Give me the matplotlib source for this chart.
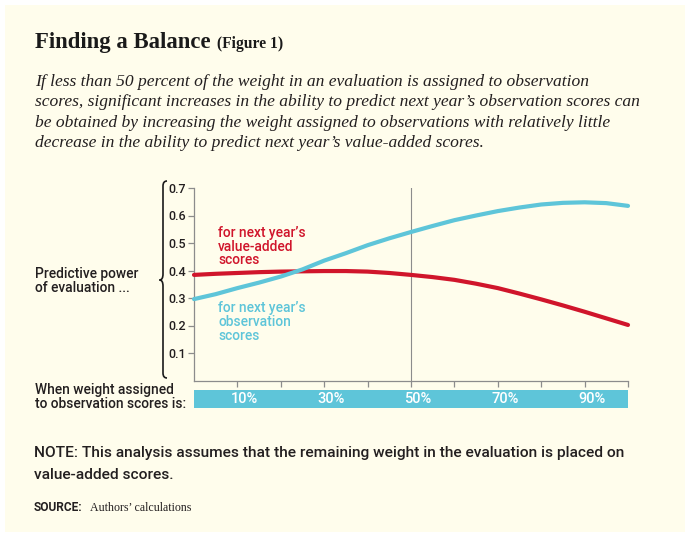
import numpy as np
import matplotlib
matplotlib.use("Agg")
import matplotlib.pyplot as plt
import matplotlib.transforms as mtransforms
from matplotlib.patches import Rectangle, PathPatch
from matplotlib.path import Path

# data (weight on observation scores, %)
weight = [0, 5, 10, 15, 20, 25, 30, 35, 40, 45, 50, 55, 60, 65, 70, 75, 80, 85, 90, 95, 100]
obs_pred = [0.296, 0.314, 0.336, 0.356, 0.378, 0.404, 0.436, 0.463, 0.492, 0.517, 0.540,
            0.562, 0.583, 0.600, 0.616, 0.629, 0.640, 0.646, 0.648, 0.645, 0.635]
va_pred = [0.384, 0.388, 0.391, 0.394, 0.396, 0.397, 0.398, 0.398, 0.396, 0.391, 0.384,
           0.376, 0.366, 0.352, 0.336, 0.316, 0.295, 0.273, 0.250, 0.226, 0.202]
xticks = [10, 20, 30, 40, 50, 60, 70, 80, 90, 100]
xlab_pos = [10, 30, 50, 70, 90]
xlab_txt = ["10%", "30%", "50%", "70%", "90%"]
yticks = [0.1, 0.2, 0.3, 0.4, 0.5, 0.6, 0.7]
ylab_txt = ["0.1", "0.2", "0.3", "0.4", "0.5", "0.6", "0.7"]

para = ["If less than 50 percent of the weight in an evaluation is assigned to observation",
        "scores, significant increases in the ability to predict next year\u2019s observation scores can",
        "be obtained by increasing the weight assigned to observations with relatively little",
        "decrease in the ability to predict next year\u2019s value-added scores."]

BG = "#fffdec"
TEAL = "#5ec5d9"
RED = "#d0152b"
GREY = "#8c8c8c"
DARK = "#231f20"
SERIF = "Liberation Serif"
SANS = "Roboto"
SW = "medium"

W, H = 690, 537
fig = plt.figure(figsize=(6.9, 5.37), dpi=100, facecolor="white")
fig.patches.append(Rectangle((5 / W, 5 / H), 680 / W, 527 / H, transform=fig.transFigure,
                             facecolor=BG, edgecolor="none", zorder=-10))


def txt(x, y, s, **kw):
    # x, y in image pixels (y down), baseline aligned
    return fig.text(x / W, 1 - y / H, s, va="baseline", **kw)


def fit(t, width, others=()):
    r = fig.canvas.get_renderer()
    w = t.get_window_extent(r).width
    size = t.get_fontsize() * width / w
    t.set_fontsize(size)
    for o in others:
        o.set_fontsize(size)


# title + intro
t1 = txt(35, 48, "Finding a Balance", family=SERIF, weight="bold", size=16, color="#1a1a1a")
t2 = txt(217, 48, "(Figure 1)", family=SERIF, weight="bold", size=11, color="#1a1a1a")
p = [txt(35, y, s, family=SERIF, style="italic", size=12, color=DARK)
     for y, s in zip([86, 106, 127, 147], para)]

# axes
ax = fig.add_axes([194 / W, 1 - 380.5 / H, 434 / W, 192.5 / H])
ax.patch.set_alpha(0)
ax.plot(weight, va_pred, color=RED, lw=3, solid_capstyle="round", clip_on=False, zorder=3)
ax.plot(weight, obs_pred, color=TEAL, lw=3, solid_capstyle="round", clip_on=False, zorder=4)
ax.axvline(50, color=GREY, lw=0.8, zorder=1)
ax.set_xlim(0, 100)
ax.set_ylim(0, 0.7)
for s in ["top", "right"]:
    ax.spines[s].set_visible(False)
for s in ["left", "bottom"]:
    ax.spines[s].set_color(GREY)
    ax.spines[s].set_linewidth(0.9)
ax.set_xticks(xticks, [""] * len(xticks))
ax.set_yticks(yticks, ylab_txt)
ax.tick_params(axis="x", length=4, width=0.9, color=GREY)
ax.tick_params(axis="y", length=4.5, width=0.9, color=GREY, labelcolor=DARK, pad=1.5)
for l in ax.get_yticklabels():
    l.set_family(SANS)
    l.set_weight(SW)
    l.set_fontsize(9)

# teal band carrying the x labels
xtr = ax.get_xaxis_transform()
ax.add_patch(Rectangle((0, -0.143), 100, 0.0935, transform=xtr, facecolor=TEAL,
                       edgecolor="none", clip_on=False))
off = mtransforms.ScaledTranslation(7 / 100, 0, fig.dpi_scale_trans)
for x, s in zip(xlab_pos, xlab_txt):
    ax.text(x, -0.098, s, transform=xtr + off, ha="center", va="center",
            family=SANS, weight=SW, size=10.5, color="white")

# series labels
r1 = txt(218, 237, "for next year\u2019s", family=SANS, weight=SW, size=10, color=RED)
r2 = txt(218, 251, "value-added", family=SANS, weight=SW, size=10, color=RED)
r3 = txt(218, 264.5, "scores", family=SANS, weight=SW, size=10, color=RED)
b1 = txt(218, 312, "for next year\u2019s", family=SANS, weight=SW, size=10, color=TEAL)
b2 = txt(218, 326, "observation", family=SANS, weight=SW, size=10, color=TEAL)
b3 = txt(218, 340, "scores", family=SANS, weight=SW, size=10, color=TEAL)

# left captions
c1 = txt(35, 278, "Predictive power", family=SANS, weight=SW, size=10, color=DARK)
c2 = txt(35, 291.5, "of evaluation ...", family=SANS, weight=SW, size=10, color=DARK)
c3 = txt(35, 394, "When weight assigned", family=SANS, weight=SW, size=10, color=DARK)
c4 = txt(35, 407.5, "to observation scores is:", family=SANS, weight=SW, size=10, color=DARK)

# brace
def fp(x, y):
    return (x / W, 1 - y / H)

verts = [fp(167, 181), fp(163, 181), fp(163, 186), fp(163, 274), fp(163, 280), fp(159.5, 280),
         fp(163, 280), fp(163, 286), fp(163, 373), fp(163, 378), fp(167, 378)]
codes = [Path.MOVETO, Path.CURVE3, Path.CURVE3, Path.LINETO, Path.CURVE3, Path.CURVE3,
         Path.CURVE3, Path.CURVE3, Path.LINETO, Path.CURVE3, Path.CURVE3]
fig.patches.append(PathPatch(Path(verts, codes), transform=fig.transFigure, facecolor="none",
                             edgecolor="#1a1a1a", lw=1.2))

# note + source
n1 = txt(34, 457, "NOTE: This analysis assumes that the remaining weight in the evaluation is placed on",
         family=SANS, weight=SW, size=11, color=DARK)
n2 = txt(34, 479, "value-added scores.", family=SANS, weight=SW, size=11, color=DARK)
s1 = txt(34, 511, "SOURCE:", family=SANS, weight="bold", size=8, color=DARK)
s2 = txt(90, 511, "Authors\u2019 calculations", family=SERIF, size=8.5, color=DARK)

fig.canvas.draw()
fit(t1, 176)
fit(t2, 66)
fit(p[1], 605, p)
fit(r1, 87, [r2, r3, b1, b2, b3])
fit(c3, 138, [c1, c2, c4])
fit(n1, 589, [n2])
fit(s1, 49)
fit(s2, 101)

fig.savefig("out.png", dpi=100, facecolor="white")
